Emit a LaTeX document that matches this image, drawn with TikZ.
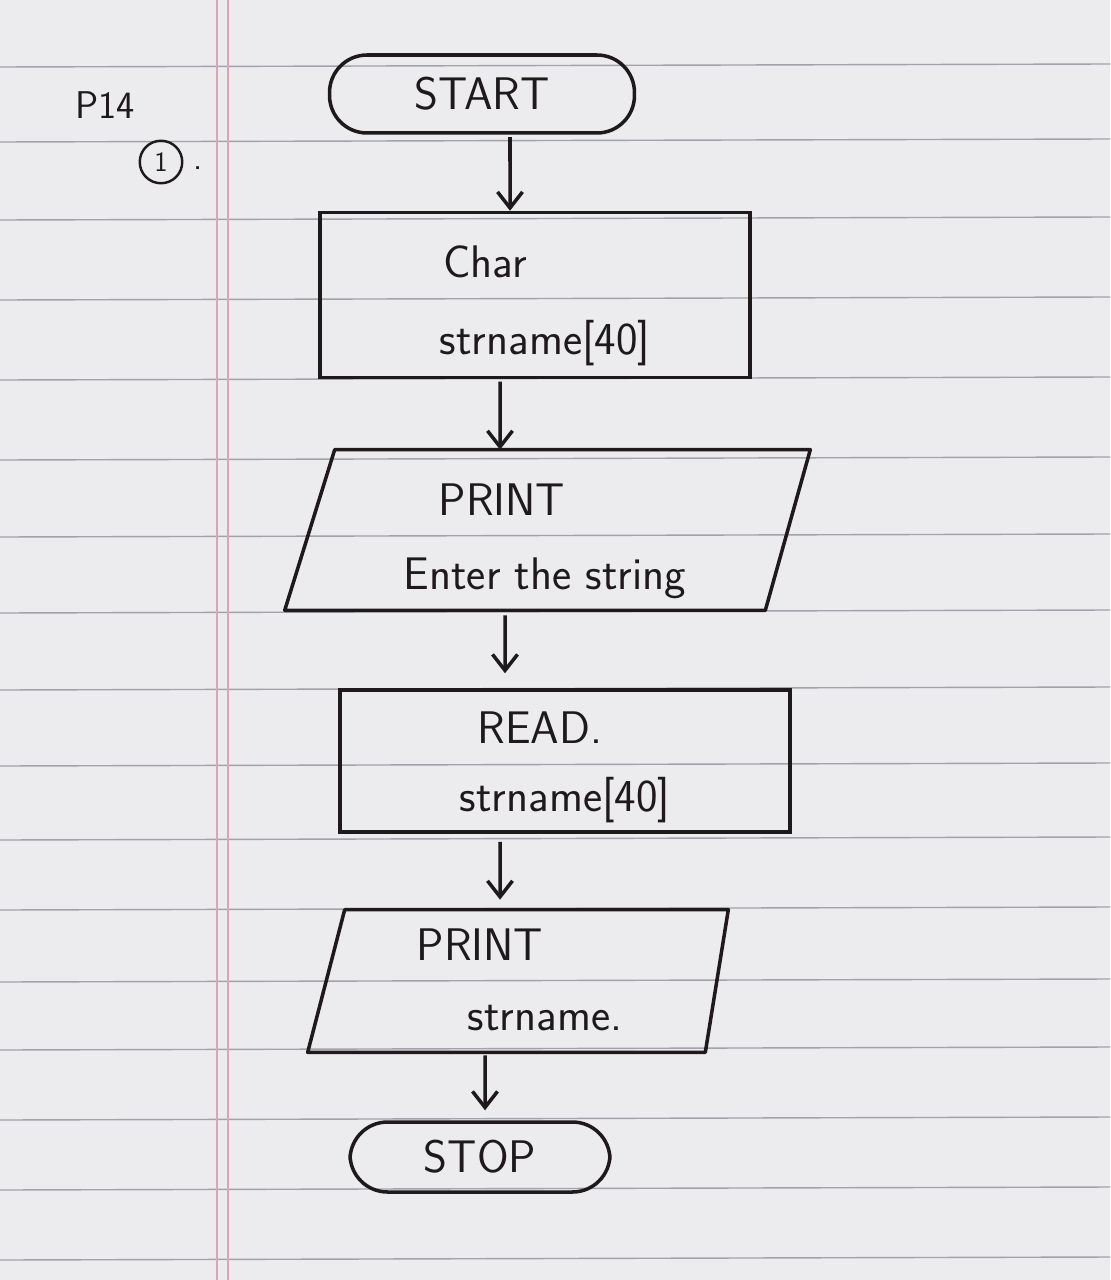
\documentclass[tikz,border=0pt]{standalone}
\usetikzlibrary{arrows.meta}
\definecolor{paper}{HTML}{ECEBEE}
\definecolor{rulecol}{HTML}{A2A3AA}
\definecolor{margincol}{HTML}{E2A2B6}
\definecolor{ink}{HTML}{1E1A1C}
\begin{document}
\begin{tikzpicture}[x=0.02cm,y=-0.02cm,
  every node/.style={font=\sffamily\fontsize{26}{30}\selectfont, text=ink},
  term/.style={draw=ink, line width=2pt, rounded corners=0.75cm},
  proc/.style={draw=ink, line width=2pt, rectangle},
  iobox/.style={rectangle, inner sep=0pt},
  outline/.style={draw=ink, line width=2pt, line join=round},
  txt/.style={inner sep=0pt},
  arr/.style={draw=ink, line width=2pt, -{Straight Barb[length=0.32cm,width=0.5cm,line width=2pt]}}]
\fill[paper] (0,0) rectangle (1110,1280);
\useasboundingbox (0,0) rectangle (1110,1280);
% ruled lines
\foreach \y in {67,142,220,300,380,460,537,613,690,766,840,910,982,1050,1120,1190,1260}
  \draw[rulecol, line width=0.8pt] (0,\y) -- (1110,\y-3);
% margin lines
\draw[margincol, line width=1.2pt] (217,0) -- (217,1280);
\draw[margincol, line width=1.2pt] (228,0) -- (228,1280);
% annotation
\node[txt, font=\sffamily\fontsize{22}{26}\selectfont] (pnum) at (105,105) {P14};
\node[draw=ink, circle, line width=1.4pt, minimum size=0.85cm, inner sep=0pt, font=\sffamily\fontsize{16}{18}\selectfont] (qnum) at (161,162) {1};
\node[txt, font=\sffamily\fontsize{20}{22}\selectfont] (qdot) at (198,168) {.};
% flowchart
\node[term, minimum width=6.1cm, minimum height=1.56cm] (start) at (482,94) {START};
\node[proc, minimum width=8.6cm, minimum height=3.3cm] (decl) at (535,295) {};
\node[txt] (declA) at (485,262) {Char};
\node[txt] (declB) at (545,343) {strname[40]};
\node[iobox, minimum width=10.5cm, minimum height=3.2cm] (out1) at (547.5,530) {};
\draw[outline] (out1.south west) -- ([xshift=-0.9cm]out1.south east) -- (out1.north east) -- ([xshift=1cm]out1.north west) -- cycle;
\node[txt] (out1A) at (502,500) {PRINT};
\node[txt] (out1B) at (545,578) {Enter the string};
\node[proc, minimum width=9cm, minimum height=2.84cm] (read) at (565,761) {};
\node[txt] (readA) at (540,728) {READ.};
\node[txt] (readB) at (565,800) {strname[40]};
\node[iobox, minimum width=8.4cm, minimum height=2.84cm] (out2) at (518,981) {};
\draw[outline] (out2.south west) -- ([xshift=-0.46cm]out2.south east) -- (out2.north east) -- ([xshift=0.74cm]out2.north west) -- cycle;
\node[txt] (out2A) at (480,945) {PRINT};
\node[txt] (out2B) at (545,1018) {strname.};
\node[term, minimum width=5.2cm, minimum height=1.4cm] (stop) at (480,1157) {STOP};
% connectors
\draw[arr, shorten <=0.05cm] ([xshift=0.56cm]start.south) -- ([xshift=-0.5cm]decl.north);
\draw[arr, shorten <=0.05cm] ([xshift=-0.7cm]decl.south) -- ([xshift=-0.95cm]out1.north);
\draw[arr, shorten <=0.1cm, shorten >=0.3cm] ([xshift=-0.85cm]out1.south) -- ([xshift=-1.2cm]read.north);
\draw[arr, shorten <=0.16cm, shorten >=0.2cm] ([xshift=-1.3cm]read.south) -- ([xshift=-0.36cm]out2.north);
\draw[arr, shorten <=0.06cm, shorten >=0.2cm] ([xshift=-0.66cm]out2.south) -- ([xshift=0.1cm]stop.north);
\end{tikzpicture}
\end{document}
